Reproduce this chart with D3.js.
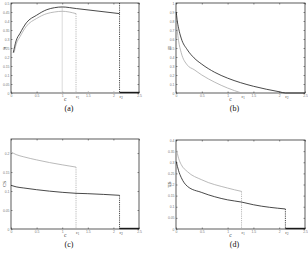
<!DOCTYPE html>
<html>
<head>
<meta charset="utf-8">
<script src="https://cdn.jsdelivr.net/npm/d3@7"></script>
<style>
  body { margin: 0; background: #fff; }
  svg { display: block; }
  .tick text { font-family: "Liberation Sans", Arial, sans-serif; fill: #777; }
</style>
</head>
<body>
<svg id="chart" width="308" height="255"></svg>
<script>
// x axis shared by all four panels
const xTicks = [0, 0.5, 1, 1.5, 2, 2.5];
const cMark = 1.0, c1 = 1.27, c2 = 2.12;

// (a) pi
const aTicks = [0, 0.05, 0.1, 0.15, 0.2, 0.25, 0.3, 0.35, 0.4, 0.45, 0.5];
const aBlackX = [0.045, 0.1, 0.175, 0.3, 0.5, 0.7, 0.85, 1.0, 1.28, 1.7, 2.12];
const aBlackY = [0.224, 0.29, 0.331, 0.39, 0.432, 0.463, 0.474, 0.478, 0.469, 0.455, 0.441];
const aGreyX = [0.06, 0.1, 0.175, 0.3, 0.5, 0.7, 0.85, 1.0, 1.27];
const aGreyY = [0.224, 0.27, 0.3125, 0.371, 0.414, 0.441, 0.45, 0.454, 0.441];

// (b) Pi
const bTicks = [0, 0.1, 0.2, 0.3, 0.4, 0.5, 0.6, 0.7, 0.8, 0.9, 1];
const bBlackX = [0.005, 0.02, 0.05, 0.1, 0.22, 0.35, 0.5, 0.75, 1.0, 1.25, 1.5, 1.75, 2.0, 2.12, 2.5];
const bBlackY = [0.9, 0.82, 0.72, 0.61, 0.48, 0.39, 0.32, 0.23, 0.165, 0.115, 0.075, 0.042, 0.014, 0, 0];
const bGreyX = [0.005, 0.02, 0.05, 0.1, 0.22, 0.35, 0.5, 0.75, 1.0, 1.27];
const bGreyY = [0.82, 0.72, 0.58, 0.45, 0.31, 0.26, 0.2, 0.12, 0.055, 0];

// (c) CS
const cTicks = [0, 0.05, 0.1, 0.15, 0.2];
const cBlackX = [0, 0.1, 0.25, 0.5, 1.0, 1.27, 1.5, 2.12];
const cBlackY = [0.115, 0.111, 0.108, 0.1035, 0.0966, 0.094, 0.093, 0.0887];
const cGreyX = [0, 0.1, 0.25, 0.5, 0.75, 1.0, 1.27];
const cGreyY = [0.203, 0.196, 0.19, 0.182, 0.175, 0.169, 0.163];

// (d) TS
const dTicks = [0, 0.05, 0.1, 0.15, 0.2, 0.25, 0.3, 0.35, 0.4];
const dBlackX = [0.005, 0.05, 0.1, 0.22, 0.5, 1.0, 1.27, 1.5, 2.12];
const dBlackY = [0.303, 0.262, 0.232, 0.192, 0.164, 0.131, 0.121, 0.109, 0.09];
const dGreyX = [0.005, 0.05, 0.1, 0.22, 0.5, 1.0, 1.27];
const dGreyY = [0.363, 0.318, 0.29, 0.258, 0.221, 0.184, 0.169];

const panels = [
  { id: "(a)", ylab: "\u03c0", box: [11, 139, 3, 93], ymax: 0.5, yt: aTicks,
    black: d3.zip(aBlackX, aBlackY), grey: d3.zip(aGreyX, aGreyY), cLine: true, zeroGrey: true, fullC2: true },
  { id: "(b)", ylab: "\u03a0", box: [176, 305, 3, 93], ymax: 1, yt: bTicks,
    black: d3.zip(bBlackX, bBlackY), grey: d3.zip(bGreyX, bGreyY), flat: true },
  { id: "(c)", ylab: "CS", box: [11, 139, 139, 229], ymax: 0.237, yt: cTicks,
    black: d3.zip(cBlackX, cBlackY), grey: d3.zip(cGreyX, cGreyY) },
  { id: "(d)", ylab: "TS", box: [176, 305, 140, 229], ymax: 0.4, yt: dTicks,
    black: d3.zip(dBlackX, dBlackY), grey: d3.zip(dGreyX, dGreyY) }
];

const svg = d3.select("#chart");
const BLACK = "#1a1a1a", GREY = "#a8a8a8";

panels.forEach((p) => {
  const [x0, x1, y0, y1] = p.box;
  const x = d3.scaleLinear().domain([0, 2.5]).range([x0, x1]);
  const y = d3.scaleLinear().domain([0, p.ymax]).range([y1, y0]);
  const g = svg.append("g");

  const line = d3.line().x((d) => x(d[0])).y((d) => y(d[1])).curve(d3.curveMonotoneX);

  // axes with inward ticks
  const fmt = (d) => String(d);
  const bottom = g.append("g").attr("transform", `translate(0,${y1})`)
    .call(d3.axisBottom(x).tickValues(xTicks).tickSize(-1.5).tickPadding(1.5).tickFormat(fmt));
  const top = g.append("g").attr("transform", `translate(0,${y0})`)
    .call(d3.axisTop(x).tickValues(xTicks).tickSize(-1.5).tickFormat(""));
  const left = g.append("g").attr("transform", `translate(${x0},0)`)
    .call(d3.axisLeft(y).tickValues(p.yt).tickSize(-1.5).tickPadding(1.5).tickFormat(fmt));
  const right = g.append("g").attr("transform", `translate(${x1},0)`)
    .call(d3.axisRight(y).tickValues(p.yt).tickSize(-1.5).tickFormat(""));
  [bottom, top, left, right].forEach((a) => {
    a.select(".domain").remove();
    a.selectAll(".tick line").attr("stroke", "#444").attr("stroke-width", 0.6);
    a.selectAll(".tick text").attr("font-size", 3.4);
  });
  g.append("rect").attr("x", x0).attr("y", y0).attr("width", x1 - x0).attr("height", y1 - y0)
    .attr("fill", "none").attr("stroke", "#333").attr("stroke-width", 0.8);

  // marker at c
  if (p.cLine) {
    g.append("line").attr("x1", x(cMark)).attr("x2", x(cMark))
      .attr("y1", y(d3.max(p.black, (d) => d[1]))).attr("y2", y(0))
      .attr("stroke", "#ccc").attr("stroke-width", 0.7);
  }

  // vertical dashed drops at c1 and c2
  if (!p.flat) {
    const gEnd = p.grey[p.grey.length - 1], bEnd = p.black[p.black.length - 1];
    g.append("line").attr("x1", x(c1)).attr("x2", x(c1)).attr("y1", y(gEnd[1])).attr("y2", y(0))
      .attr("stroke", GREY).attr("stroke-width", 0.8).attr("stroke-dasharray", "1.2,1");
    g.append("line").attr("x1", x(c2)).attr("x2", x(c2))
      .attr("y1", p.fullC2 ? y0 : y(bEnd[1])).attr("y2", y(0))
      .attr("stroke", BLACK).attr("stroke-width", 0.8).attr("stroke-dasharray", "1.2,1");
    if (p.zeroGrey) {
      g.append("line").attr("x1", x(c1)).attr("x2", x(c2)).attr("y1", y(0) - 0.5).attr("y2", y(0) - 0.5)
        .attr("stroke", GREY).attr("stroke-width", 1.2);
    }
    g.append("line").attr("x1", x(c2)).attr("x2", x(2.5)).attr("y1", y(0) - 0.5).attr("y2", y(0) - 0.5)
      .attr("stroke", BLACK).attr("stroke-width", 1.4);
  }

  g.append("path").datum(p.grey).attr("d", line)
    .attr("fill", "none").attr("stroke", GREY).attr("stroke-width", 0.8);
  g.append("path").datum(p.black).attr("d", line)
    .attr("fill", "none").attr("stroke", BLACK).attr("stroke-width", 0.8);

  // c, c1, c2 labels below the axis
  const lab = (xv, sub, dy) => {
    const t = g.append("text").attr("x", x(xv) + (sub ? 1.5 : 3)).attr("y", y1 + dy)
      .attr("text-anchor", "middle").attr("font-family", "Liberation Serif, serif")
      .attr("font-size", sub ? 4 : 5.5).attr("fill", "#444").text("c");
    if (sub) t.append("tspan").attr("font-size", 3).attr("dy", 1).text(sub);
  };
  lab(cMark, null, 7.5);
  lab(c1, "1", 5);
  lab(c2, "2", 5);

  // y label
  g.append("text").attr("transform", `translate(${x0 - 5.5},${(y0 + y1) / 2}) rotate(-90)`)
    .attr("text-anchor", "middle").attr("font-family", "Liberation Serif, serif")
    .attr("font-size", 5).attr("fill", "#333").text(p.ylab);

  // panel caption
  g.append("text").attr("x", (x0 + x1) / 2 - 6).attr("y", y1 + 18)
    .attr("text-anchor", "middle").attr("font-family", "Liberation Serif, serif")
    .attr("font-size", 8).attr("fill", "#111").text(p.id);
});
</script>
</body>
</html>
